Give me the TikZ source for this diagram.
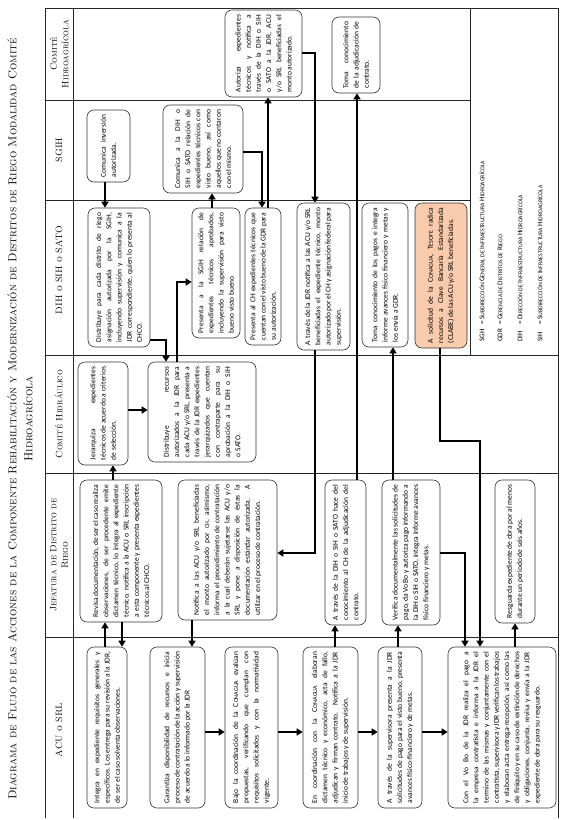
\documentclass[tikz,border=0pt]{standalone}
\usepackage{fontspec}
\usetikzlibrary{arrows.meta}
\newfontfamily\boxfont{Carlito}
\definecolor{peach}{HTML}{F8CBAD}
\newcommand\smc[1]{{\fontsize{6}{6}\selectfont #1}}
\newcommand\lgsc[1]{{\fontsize{5.8}{6}\selectfont #1}}
\newcommand\bxfont{\boxfont\fontsize{7.5}{10.2}\selectfont\hyphenpenalty=10000\exhyphenpenalty=10000\tolerance=9000\emergencystretch=2em}
\newcommand\lnfont{\rmfamily\fontsize{9.2}{11.5}\selectfont}
\newcommand\ttlfont{\rmfamily\fontsize{11.5}{16}\selectfont}
\newcommand\lgfont{\boxfont\fontsize{7.2}{8}\selectfont}
\begin{document}
\begin{tikzpicture}[x=1pt,y=-1pt,
  box/.style={draw=black!80, line width=0.6pt, rounded corners=7pt, rotate=90,
    align=justify, inner xsep=4pt, inner ysep=1pt, font=\bxfont},
  arr/.style={line width=2.2pt, -{Triangle[length=6pt,width=7pt]}},
  frame/.style={line width=0.8pt, black!85},
  lane/.style={rotate=90, font=\lnfont, align=center, inner sep=0pt},
  legend/.style={rotate=90, anchor=west, font=\lgfont, inner sep=0pt}]
\useasboundingbox (0,0) rectangle (563,820);

% title
\node[rotate=90, align=center, font=\ttlfont, inner sep=0pt] (title) at (20,419)
 {\textsc{Diagrama de Flujo de las Acciones de la Componente Rehabilitación y Modernización de Distritos de Riego Modalidad Comité}\\
  \textsc{Hidroagrícola}};

% frame
\draw[frame] (45,8) -- (558,8);
\draw[frame] (45,8) -- (45,818);
\draw[frame] (73,8) -- (73,818);
\draw[frame] (558,8) -- (558,818);
\draw[frame] (470,8) -- (470,355);
\draw[frame] (45,100) -- (470,100);
\draw[frame] (45,200) -- (470,200);
\draw[frame] (45,355) -- (558,355);
\draw[frame] (45,473) -- (558,473);
\draw[frame] (45,637) -- (558,637);

% lane labels
\node[lane] (lCHA) at (59,54) {\textsc{Comité}\\\textsc{Hidroagrícola}};
\node[lane] (lSGIH) at (59,150) {\textsc{SGIH}};
\node[lane] (lDIH) at (59,270) {\textsc{DIH o SIH o SATO}};
\node[lane] (lCH) at (59,414) {\textsc{Comité Hidráulico}};
\node[lane] (lJDR) at (59,555) {\textsc{Jefatura de Distrito de}\\\textsc{Riego}};
\node[lane] (lACU) at (59,730) {\textsc{ACU o SRL}};

% legend
\node[legend] (lg1) at (482,342) {\makebox[17pt][l]{SGH}= S\lgsc{UBDIRECCIÓN} G\lgsc{ENERAL} \lgsc{DE} I\lgsc{NFRAESTRUCTURA} H\lgsc{IDROAGRÍCOLA}};
\node[legend] (lg2) at (500,342) {\makebox[17pt][l]{GDR}= G\lgsc{ERENCIA DE} D\lgsc{ISTRITOS DE} R\lgsc{IEGO}};
\node[legend] (lg3) at (520,342) {\makebox[17pt][l]{DIH}= D\lgsc{IRECCIÓN DE} I\lgsc{NFRAESTRUCTURA} H\lgsc{IDROAGRÍCOLA}};
\node[legend] (lg4) at (540,342) {\makebox[17pt][l]{SIH}= S\lgsc{UBDIRECCIÓN DE} I\lgsc{NFRAESTRUCTURA} H\lgsc{IDROAGRÍCOLA}};

% Comite Hidroagricola
\node[box, minimum width=87pt, minimum height=77pt, text width=77pt] (H1) at (263.5,53.5)
 {Autoriza expedientes técnicos y notifica a través de la DIH o SIH o SATO a la JDR, ACU y/o SRL beneficiadas el monto autorizado.};
\node[box, minimum width=76pt, minimum height=48pt, text width=66pt] (H2) at (356,55)
 {Toma conocimiento de la adjudicación de contrato.};
% SGIH
\node[box, minimum width=72pt, minimum height=43pt, text width=62pt] (S1) at (108.5,146)
 {Comunica inversión autorizada.};
\node[box, minimum width=88pt, minimum height=80pt, text width=78pt] (S2) at (203,149)
 {Comunica a la DIH o SIH o SATO relación de expedientes técnicos con visto bueno, así como aquellos que no contaron con el mismo.};
% DIH
\node[box, minimum width=139pt, minimum height=62pt, text width=129pt] (D1) at (119,277.5)
 {Distribuye para cada distrito de riego asignación autorizada por la SGIH, incluyendo supervisión y comunica a la JDR correspondiente, quien lo presenta al CHCO.};
\node[box, minimum width=130pt, minimum height=48pt, text width=120pt] (D2) at (216,273)
 {Presenta a la SGIH relación de expedientes técnicos aprobados, incluyendo la supervisión para visto bueno visto bueno};
\node[box, minimum width=137pt, minimum height=36pt, text width=127pt] (D3) at (263,276.5)
 {Presenta al CH expedientes técnicos que cuentan con el visto bueno de la GDR para su autorización.};
\node[box, minimum width=147pt, minimum height=53pt, text width=137pt] (D4) at (323.5,276.5)
 {A través de la JDR notifica a las ACU y/o SRL beneficiadas el expediente técnico, monto autorizado por el CH y asignación federal para supervisión.};
\node[box, minimum width=144pt, minimum height=46pt, text width=134pt] (D5) at (385,275)
 {Toma conocimiento de los pagos e integra informe avances físico financiero y metas y los envía a GDR.};
\node[box, fill=peach, minimum width=145pt, minimum height=52pt, text width=135pt] (D6) at (441,275.5)
 {A solicitud de la C\smc{ONAGUA}, T\smc{ESOFE} radica recursos a Clave Bancaria Estandarizada (CLABE) de las ACU y/o SRL beneficiadas.};
% Comite Hidraulico
\node[box, minimum width=103pt, minimum height=50pt, text width=93pt] (C1) at (103,413.5)
 {Jerarquiza expedientes técnicos de acuerdo a criterios de selección.};
\node[box, minimum width=100pt, minimum height=108pt, text width=90pt] (C2) at (202,412)
 {Distribuye recursos autorizados a la JDR para cada ACU y/o SRL, presenta a través de la JDR expedientes jerarquizados que cuentan con contraparte para su aprobación a la DIH o SIH o SATO.};
% Jefatura
\node[box, minimum width=142pt, minimum height=82pt, text width=132pt] (J1) at (121,551)
 {Revisa documentación, de ser el caso realiza observaciones, de ser procedente emite dictamen técnico, lo integra al expediente técnico, notifica a la ACU o SRL inscripción a esta componente y presenta expedientes técnicos al CHCO.};
\node[box, minimum width=140pt, minimum height=99pt, text width=130pt] (J2) at (227.5,550)
 {Notifica a las ACU y/o SRL beneficiadas el monto autorizado por \smc{CH}, asimismo, informa el procedimiento de contratación a la cual deberán sujetarse las ACU y/o SRL y pone a disposición de éstas la documentación estándar autorizada. A utilizar en el proceso de contratación.};
\node[box, minimum width=145pt, minimum height=41pt, text width=135pt] (J3) at (345.5,552.5)
 {A través de la DIH o SIH o SATO hace del conocimiento al CH de la adjudicación del contrato.};
\node[box, minimum width=145pt, minimum height=58pt, text width=135pt] (J4) at (411,552.5)
 {Verifica documentalmente las solicitudes de pago, da Vo Bo y autoriza pago informando a la DIH o SIH o SATO, integra informe avances físico financiero y metas.};
\node[box, minimum width=143pt, minimum height=40pt, text width=133pt] (J5) at (515,551.5)
 {Resguarda expediente de obra por al menos durante un periodo de seis años.};
% ACU
\node[box, minimum width=161pt, minimum height=40pt, text width=151pt] (A1) at (107,727.5)
 {Integra en expediente requisitos generales y específicos. Los entrega para su revisión a la JDR, de ser el caso solventa observaciones.};
\node[box, minimum width=161pt, minimum height=55pt, text width=151pt] (A2) at (177.5,727.5)
 {Garantiza disponibilidad de recursos e inicia proceso de contratación de la acción y supervisión de acuerdo a lo informado por la JDR};
\node[box, minimum width=161pt, minimum height=53pt, text width=151pt] (A3) at (251.5,727.5)
 {Bajo la coordinación de la C\smc{ONAGUA} evalúan propuestas, verificando que cumplan con requisitos solicitados y con la normatividad vigente.};
\node[box, minimum width=161pt, minimum height=55pt, text width=151pt] (A4) at (330.5,727.5)
 {En coordinación con la C\smc{ONAGUA} elaboran dictamen técnico y económico, acta de fallo, adjudican y firman contrato. Notifica a la JDR inicio de trabajos y de supervisión.};
\node[box, minimum width=161pt, minimum height=44pt, text width=151pt] (A5) at (400,727.5)
 {A través de la supervisora presenta a la JDR solicitudes de pago para el visto bueno, presenta avances físico-financiero y de metas.};
\node[box, minimum width=161pt, minimum height=108pt, text width=151pt] (A6) at (502,727.5)
 {Con el Vo Bo de la JDR realiza el pago a la empresa contratista e informa a la JDR el termino de las mismas y conjuntamente con el contratista, supervisora y JDR verifican los trabajos y elaboran acta entrega-recepción, así como las de finiquito y en su caso de extinción de derechos y obligaciones, conjunta, revisa y envía a la JDR expediente de obra para su resguardo.};

% guide coordinates
\coordinate (g1) at (105,0);
\coordinate (g2) at (122,0);
\coordinate (g3) at (113,0);
\coordinate (g4) at (0,410);
\coordinate (g5x) at (166,0);
\coordinate (g5y) at (0,340);
\coordinate (g6x) at (177,0);
\coordinate (g6y) at (0,282);
\coordinate (g7) at (212,0);
\coordinate (g8x) at (262,0);
\coordinate (g8y) at (0,152);
\coordinate (g9) at (268,0);
\coordinate (g10x) at (315,0);
\coordinate (g10y) at (0,53);
\coordinate (g11y) at (0,553);
\coordinate (g12) at (192,0);
\coordinate (g13) at (0,732);
\coordinate (g14) at (335,0);
\coordinate (g15) at (357,0);
\coordinate (g16) at (398,0);
\coordinate (g17) at (393,0);
\coordinate (g18x) at (465,0);
\coordinate (g19a) at (440,0);
\coordinate (g19y) at (0,441);
\coordinate (g19b) at (480,0);
\coordinate (g20) at (515,0);

% connectors
\draw[arr] (A1.east -| g1) -- (J1.west -| g1);
\draw[arr] (J1.west -| g2) -- (A1.east -| g2);
\draw[arr] (J1.east -| g3) -- (C1.west -| g3);
\draw[arr] (C1.south |- g4) -- (C2.north |- g4);
\draw[arr] (S1.west -| g1) -- (D1.east -| g1);
\draw[arr] (D1.south |- g5y) -| (C2.east -| g5x);
\draw[arr] (C2.east -| g6x) |- (D2.north |- g6y);
\draw[arr] (D2.east -| g7) -- (S2.west -| g7);
\draw[arr] (S2.south |- g8y) -| (D3.east -| g8x);
\draw[arr] (D3.east -| g9) -- (H1.west -| g9);
\draw[arr] (H1.south |- g10y) -| (D4.east -| g10x);
\draw[arr] (D4.west -| g10x) |- (J2.south |- g11y);
\draw[arr] (J2.west -| g12) -- (A2.east -| g12);
\draw[arr] (A2.south |- g13) -- (A3.north |- g13);
\draw[arr] (A3.south |- g13) -- (A4.north |- g13);
\draw[arr] (A4.south |- g13) -- (A5.north |- g13);
\draw[arr] (A5.south |- g13) -- (A6.north |- g13);
\draw[arr] (A4.east -| g14) -- (J3.west -| g14);
\draw[arr] (J3.east -| g15) -- (H2.west -| g15);
\draw[arr] (A5.east -| g16) -- (J4.west -| g16);
\draw[arr] (J4.east -| g17) -- (D5.west -| g17);
\draw[arr] (J4.south |- g11y) -| (A6.east -| g18x);
\draw[arr] (D6.west -| g19a) -- (g19a |- g19y) -- (g19b |- g19y) -- (A6.east -| g19b);
\draw[arr] (A6.east -| g20) -- (J5.west -| g20);
\end{tikzpicture}
\end{document}
